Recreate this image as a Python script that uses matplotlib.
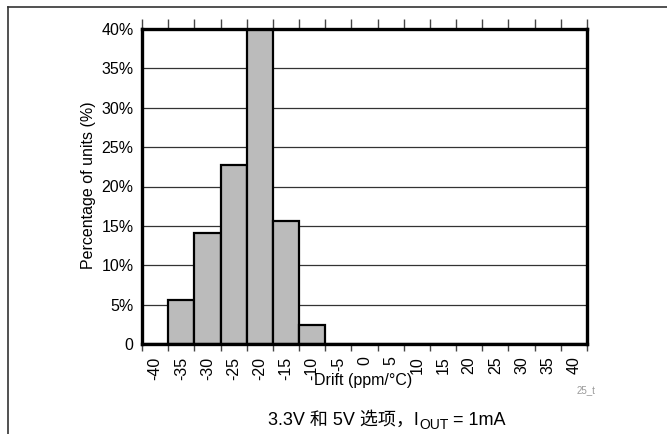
import matplotlib
matplotlib.use("Agg")
import matplotlib.pyplot as plt
import numpy as np
from matplotlib.lines import Line2D
from matplotlib.ticker import FuncFormatter

plt.rcParams["font.family"] = ["Liberation Sans", "Noto Sans CJK SC", "DejaVu Sans"]

# 数据：每个区间 (ppm/°C) 对应的百分比
bins = [-40, -35, -30, -25, -20, -15, -10, -5, 0, 5, 10, 15, 20, 25, 30, 35, 40]
percent = [0, 5.6, 14.1, 22.7, 40.0, 15.6, 2.4, 0, 0, 0, 0, 0, 0, 0, 0, 0, 0]
y_ticks = [0, 5, 10, 15, 20, 25, 30, 35, 40]

fig = plt.figure(figsize=(6.67, 4.34), dpi=100)
ax = fig.add_axes([142 / 667, 1 - 344 / 434, 445 / 667, 315 / 434])

# 网格线
for y in y_ticks[1:-1]:
    ax.axhline(y, color="#333333", lw=0.9, zorder=1)

pos = np.arange(len(bins))
ax.bar(pos, percent, width=1.0, color="#bbbbbb",
       edgecolor="black", linewidth=1.6, zorder=2)

ax.set_xlim(-0.5, len(bins) - 0.5)
ax.set_ylim(0, 40)
# 刻度线在区间边界，标签在区间中心
ax.set_xticks(np.arange(len(bins) + 1) - 0.5)
ax.set_xticklabels([])
ax.set_xticks(pos, minor=True)
ax.set_xticklabels([str(v) for v in bins], minor=True, rotation=90, fontsize=11.5)
ax.tick_params(axis="x", which="minor", length=0, pad=9)
ax.tick_params(axis="x", which="major", direction="out", length=5, width=1,
               top=True, color="#444444")
for t in ax.xaxis.get_major_ticks():
    t.tick2line.set_markersize(7)

ax.set_yticks(y_ticks)
ax.yaxis.set_major_formatter(FuncFormatter(lambda v, p: "0" if v == 0 else "%d%%" % v))
ax.tick_params(axis="y", length=0, labelsize=11.5, pad=6)
for s in ax.spines.values():
    s.set_linewidth(2.4)
    s.set_zorder(3)

fig.text(363 / 667, 1 - 381 / 434, "Drift (ppm/°C)", ha="center", va="center", fontsize=11.5)
fig.text(88 / 667, 1 - 185 / 434, "Percentage of units (%)", ha="center", va="center",
         rotation=90, fontsize=11.5)
fig.text(577 / 667, 1 - 390 / 434, "25_t", ha="left", va="center", fontsize=7, color="#999999")

# 外框线
fig.add_artist(Line2D([8 / 667, 8 / 667], [0, 1 - 7 / 434], color="#333333", lw=1.2))
fig.add_artist(Line2D([8 / 667, 1], [1 - 7 / 434, 1 - 7 / 434], color="#333333", lw=1.2))

# 标题：3.3V 和 5V 选项，I_OUT = 1mA
renderer = fig.canvas.get_renderer()
cap_y = 1 - 425 / 434
x0 = 268 / 667
parts = [("3.3V 和 5V 选项，I", 13, 0), ("OUT", 10, -4), (" = 1mA", 13, 0)]
for txt, size, dy in parts:
    t = fig.text(x0, cap_y + dy / 434, txt, ha="left", va="baseline", fontsize=size)
    bb = t.get_window_extent(renderer)
    x0 = bb.x1 / fig.bbox.width

fig.savefig("out.png", dpi=100)
